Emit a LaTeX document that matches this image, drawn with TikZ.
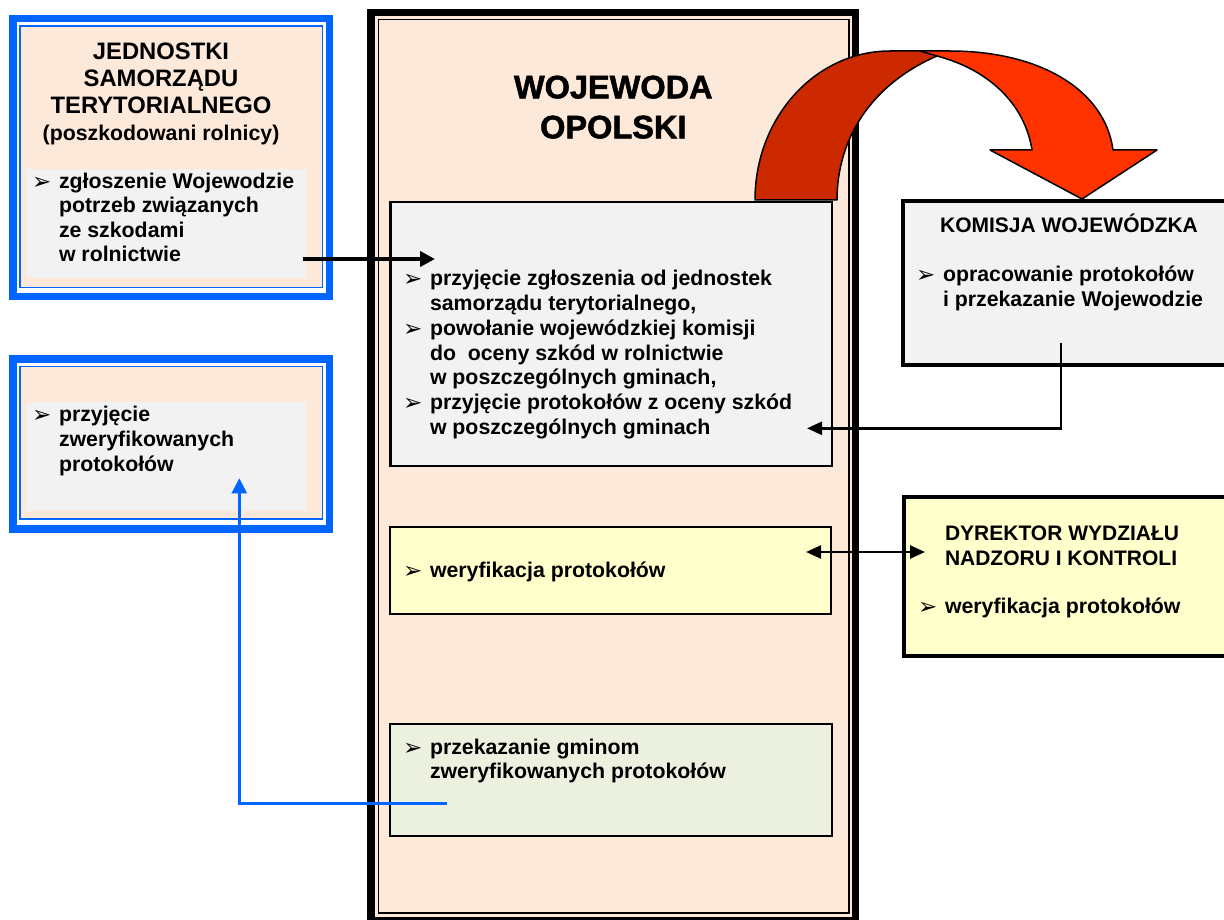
\documentclass[tikz,border=0pt]{standalone}
\usepackage{fontspec}
\setmainfont{Liberation Sans}
\newfontfamily\heavyfont{Liberation Sans}[BoldFeatures={FakeBold=1.6}]
\newfontfamily\bulfont{DejaVu Sans}
\usetikzlibrary{arrows.meta}
\definecolor{peach}{HTML}{FDE9D9}
\definecolor{lgray}{HTML}{F2F2F2}
\definecolor{lyellow}{HTML}{FFFFCC}
\definecolor{lgreen}{HTML}{EBF1DE}
\definecolor{bblue}{HTML}{0066FF}
\definecolor{darkred}{HTML}{CC2900}
\definecolor{brightred}{HTML}{FF3300}
\newcommand{\bul}{\makebox[26pt][l]{\hspace*{-1pt}\raisebox{-1pt}{\bulfont\fontsize{23}{23}\selectfont ➢}}}
\newcommand{\ind}{\hspace*{26pt}}
\begin{document}
\begin{tikzpicture}[x=1pt,y=-1pt,
  box/.style={rectangle, anchor=north west, inner sep=0pt, outer sep=0pt},
  txt/.style={inner sep=0pt, outer sep=0pt, anchor=base west, align=left,
              font=\bfseries\fontsize{21.3}{24.7}\selectfont},
  ttl/.style={inner sep=0pt, outer sep=0pt, anchor=base,
              font=\bfseries\fontsize{23.8}{27}\selectfont},
  conn/.style={line width=2.5pt, -{Triangle[length=15pt,width=13pt]}},
  redarrow/.style={draw=black, line width=1.5pt, line join=round}]
\clip (0,0) rectangle (1224,920);
\fill[white] (0,0) rectangle (1224,920);

% ---------- WOJEWODA main frame ----------
\node[box, draw=black, fill=peach, line width=7.5pt, minimum width=484.5pt, minimum height=908.5pt] (wojouter) at (371,12.5) {};
\node[box, draw=black, line width=1.5pt, minimum width=470.5pt, minimum height=893.5pt] (wojinner) at (378.5,19.5) {};
\node[inner sep=0pt, anchor=base, font=\heavyfont\bfseries\fontsize{32.5}{40}\selectfont] (wojtitle) at (613.3,98.3)
  {\begin{tabular}[t]{@{}c@{}}WOJEWODA\\OPOLSKI\end{tabular}};

% ---------- left box 1 ----------
\node[box, draw=bblue, fill=white, line width=7.4pt, minimum width=316.6pt, minimum height=277.7pt] (jstouter) at (12.9,18.8) {};
\node[box, draw=bblue, fill=peach, line width=1.6pt, minimum width=302.7pt, minimum height=261.7pt] (jstinner) at (19.8,25.8) {};
\node[box, fill=lgray, minimum width=278.7pt, minimum height=109.3pt] (jstgray) at (27.3,169) {};
\node[ttl] (jsttitle) at (161,60)
  {\begin{tabular}[t]{@{}c@{}}JEDNOSTKI\\SAMORZĄDU\\TERYTORIALNEGO\\{\fontsize{21.3}{27}\selectfont (poszkodowani rolnicy)}\end{tabular}};
\node[txt, font=\bfseries\fontsize{21.3}{24.4}\selectfont] (jsttext) at (33,188.3)
  {\begin{tabular}[t]{@{}l@{}}\bul zgłoszenie Wojewodzie\\\ind potrzeb związanych\\\ind ze szkodami\\\ind w rolnictwie\end{tabular}};

% ---------- left box 2 ----------
\node[box, draw=bblue, fill=white, line width=7.4pt, minimum width=316.6pt, minimum height=170pt] (retouter) at (12.9,358.8) {};
\node[box, draw=bblue, fill=peach, line width=1.6pt, minimum width=302.7pt, minimum height=152.5pt] (retinner) at (19.8,366.5) {};
\node[box, fill=lgray, minimum width=278.7pt, minimum height=109pt] (retgray) at (27.3,401.7) {};
\node[txt, font=\bfseries\fontsize{21.3}{25}\selectfont] (rettext) at (33,421.7)
  {\begin{tabular}[t]{@{}l@{}}\bul przyjęcie\\\ind zweryfikowanych\\\ind protokołów\end{tabular}};

% ---------- inner boxes of WOJEWODA ----------
\node[box, draw=black, fill=lgray, line width=2.2pt, minimum width=441.5pt, minimum height=264.3pt] (przbox) at (390.5,201.7) {};
\node[txt] (przt) at (404,286)
  {\begin{tabular}[t]{@{}l@{}}\bul przyjęcie zgłoszenia od jednostek\\\ind samorządu terytorialnego,\\\bul powołanie wojewódzkiej komisji\\\ind do\ \ oceny szkód w rolnictwie\\\ind w poszczególnych gminach,\\\bul przyjęcie protokołów z oceny szkód\\\ind w poszczególnych gminach\end{tabular}};

\node[box, draw=black, fill=lyellow, line width=2.2pt, minimum width=441pt, minimum height=86.6pt] (werbox) at (390.3,527.2) {};
\node[txt] (wert) at (404,577) {\bul weryfikacja protokołów};

\node[box, draw=black, fill=lgreen, line width=2.2pt, minimum width=441.7pt, minimum height=112.3pt] (pgmbox) at (390.3,724) {};
\node[txt] (pgmt) at (404,754)
  {\begin{tabular}[t]{@{}l@{}}\bul przekazanie gminom\\\ind zweryfikowanych protokołów\end{tabular}};

% ---------- KOMISJA ----------
\node[box, draw=black, fill=lgray, line width=4pt, minimum width=330pt, minimum height=164pt] (kombox) at (903,201) {};
\node[inner sep=0pt, anchor=base, font=\bfseries\fontsize{21}{24.7}\selectfont] (komtitle) at (1069,232.7) {KOMISJA WOJEWÓDZKA};
\node[txt, font=\bfseries\fontsize{21.3}{25}\selectfont] (komt) at (917,281.7)
  {\begin{tabular}[t]{@{}l@{}}\bul opracowanie protokołów\\\ind i przekazanie Wojewodzie\end{tabular}};

% ---------- DYREKTOR ----------
\node[box, draw=black, fill=lyellow, line width=4pt, minimum width=330pt, minimum height=159pt] (dyrbox) at (904,497) {};
\node[txt, font=\bfseries\fontsize{21}{25}\selectfont] (dyrtitle) at (945,540)
  {\begin{tabular}[t]{@{}l@{}}DYREKTOR WYDZIAŁU\\NADZORU I KONTROLI\end{tabular}};
\node[txt] (dyrt) at (919,613.3) {\bul weryfikacja protokołów};

% ---------- red curved arrow ----------
\path[redarrow, fill=brightred]
  (900,51) -- (950,51) .. controls (1040,51) and (1105,90) .. (1113,150)
  -- (1157,150) -- (1082,199) -- (990,150) -- (1032,150)
  .. controls (1025,105) and (990,70) .. (937,56) -- cycle;
\path[redarrow, fill=darkred]
  (755,200) .. controls (755,118) and (815,51) .. (890,51) -- (920,51) -- (937,56)
  .. controls (870,85) and (837,140) .. (837,200) -- cycle;

% ---------- connectors ----------
\coordinate (c1s) at (303,259);
\coordinate (c1e) at (435,259);
\draw[line width=4pt, -{Triangle[length=15pt,width=15pt]}] (c1s) -- (c1e);

\coordinate (c2s) at (1061,343);
\coordinate (c2m) at (1061,428.3);
\coordinate (c2e) at (807,428.3);
\draw[conn] (c2s) -- (c2m) -- (c2e);

\coordinate (c3s) at (806,552);
\coordinate (c3e) at (925,552);
\draw[line width=2.5pt, {Triangle[length=15pt,width=13pt]}-{Triangle[length=15pt,width=13pt]}] (c3s) -- (c3e);

\coordinate (c4s) at (446.7,803.3);
\coordinate (c4m) at (239.3,803.3);
\coordinate (c4e) at (239.3,478.3);
\draw[conn, draw=bblue, -{Triangle[length=15pt,width=15pt]}] (c4s) -- (c4m) -- (c4e);
\end{tikzpicture}
\end{document}
